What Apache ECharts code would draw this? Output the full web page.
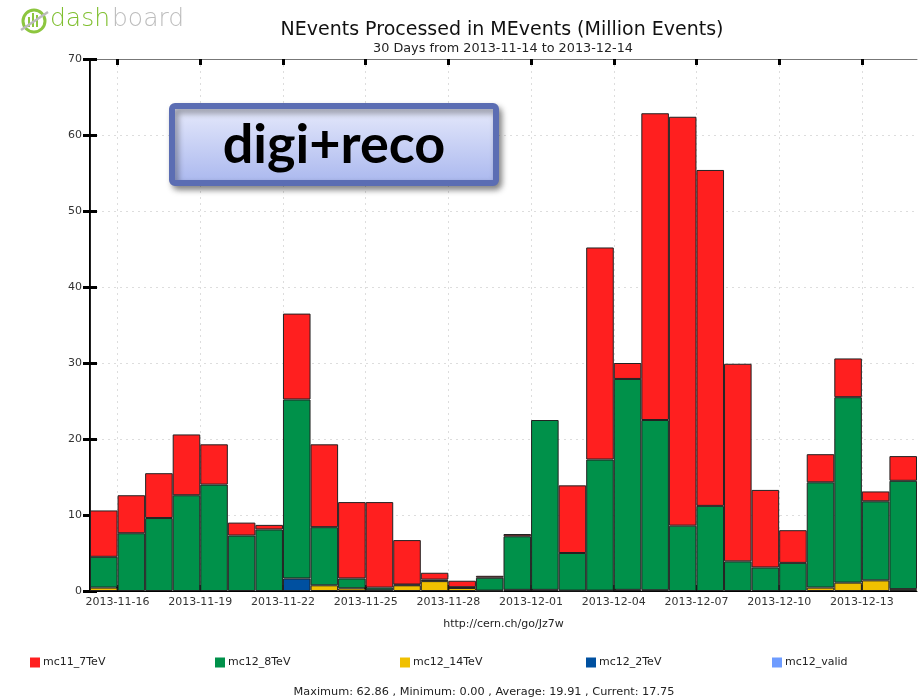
<!DOCTYPE html>
<html>
<head>
<meta charset="utf-8">
<script src="https://cdn.jsdelivr.net/npm/echarts@6/dist/echarts.min.js"></script>
<style>
  html, body { margin: 0; padding: 0; background: #fff; }
  #main { width: 920px; height: 699px; }
</style>
</head>
<body>
<div id="main"></div>
<script>
// one bar per day
var days = [
  '2013-11-15', '2013-11-16', '2013-11-17', '2013-11-18', '2013-11-19', '2013-11-20',
  '2013-11-21', '2013-11-22', '2013-11-23', '2013-11-24', '2013-11-25', '2013-11-26',
  '2013-11-27', '2013-11-28', '2013-11-29', '2013-11-30', '2013-12-01', '2013-12-02',
  '2013-12-03', '2013-12-04', '2013-12-05', '2013-12-06', '2013-12-07', '2013-12-08',
  '2013-12-09', '2013-12-10', '2013-12-11', '2013-12-12', '2013-12-13', '2013-12-14'
]

// million events per day, '-' = nothing
var mc12_14TeV = [0.45, '-', '-', '-', '-', '-', '-', '-', 0.75, 0.35, 0.1, 0.75, 1.3, 0.4, 0.05,
  0.15, 0.15, 0.05, 0.05, 0.15, 0.1, '-', '-', '-', '-', '-', 0.45, 1.1, 1.4, 0.25]
var mc12_2TeV = ['-', '-', '-', '-', '-', '-', '-', 1.65, '-', '-', '-', '-', '-', '-', '-',
  '-', '-', '-', '-', '-', '-', '-', '-', '-', '-', '-', '-', '-', '-', '-']
var mc12_valid = []
var mc12_8TeV = [4.05, 7.6, 9.6, 12.6, 14.0, 7.3, 8.1, 23.55, 7.65, 1.3, 0.35, 0.1, 0.2, 0.1, 1.7,
  7.05, 22.35, 4.95, 17.25, 27.75, 22.4, 8.6, 11.2, 3.9, 3.1, 3.7, 13.85, 24.4, 10.4, 14.25]
var mc11_7TeV = [6.1, 5.0, 5.9, 8.0, 5.3, 1.7, 0.6, 11.3, 10.9, 10.05, 11.25, 5.85, 0.9, 0.85, 0.25,
  0.3, '-', 8.9, 27.9, 2.1, 40.36, 53.8, 44.2, 26.0, 10.2, 4.3, 3.7, 5.1, 1.3, 3.25]

// date ticks sit on day boundaries (value = day offset from 2013-11-15)
var tickValues = [1, 4, 7, 10, 13, 16, 19, 22, 25, 28]
var tickLabels = ['2013-11-16', '2013-11-19', '2013-11-22', '2013-11-25', '2013-11-28',
  '2013-12-01', '2013-12-04', '2013-12-07', '2013-12-10', '2013-12-13']

var font = 'DejaVu Sans'
var colors = {
  mc11_7TeV: '#ff1f1f',
  mc12_8TeV: '#00914a',
  mc12_14TeV: '#f0c000',
  mc12_2TeV: '#0050a0',
  mc12_valid: '#6e9cff'
}

var myChart = echarts.init(document.getElementById('main'))

function bar(name, data) {
  return {
    name: name,
    type: 'bar',
    stack: 'total',
    xAxisIndex: 0,
    yAxisIndex: 0,
    barCategoryGap: 0,
    data: data,
    itemStyle: { color: colors[name], borderColor: '#222', borderWidth: 1 },
    emphasis: { disabled: true }
  }
}

function legendAt(name, left) {
  return {
    data: [name],
    left: left,
    top: 652,
    icon: 'rect',
    itemWidth: 10,
    itemHeight: 10,
    itemGap: 0,
    selectedMode: false,
    itemStyle: { borderWidth: 0 },
    textStyle: { fontFamily: font, fontSize: 11, color: '#222', padding: [0, 0, 0, -2] }
  }
}

var dotted = { show: true, lineStyle: { color: '#ddd', type: [2, 4], width: 1 } }

var option = {
  animation: false,
  backgroundColor: '#fff',
  legend: [
    legendAt('mc11_7TeV', 25),
    legendAt('mc12_8TeV', 210),
    legendAt('mc12_14TeV', 395),
    legendAt('mc12_2TeV', 581),
    legendAt('mc12_valid', 767)
  ],
  grid: { left: 90, right: 3, top: 59, bottom: 108 },
  xAxis: [
    { type: 'category', data: days, show: false },
    {
      type: 'value', position: 'bottom', min: 0, max: 30,
      name: 'http://cern.ch/go/Jz7w', nameLocation: 'middle', nameGap: 28,
      nameTextStyle: { fontFamily: font, fontSize: 11, color: '#222' },
      axisLine: { show: true, lineStyle: { color: '#000', width: 1 } },
      axisTick: { inside: true, length: 6, customValues: tickValues, lineStyle: { color: '#000', width: 3 } },
      axisLabel: {
        customValues: tickValues, margin: 6,
        fontFamily: font, fontSize: 11, color: '#333',
        formatter: function (v) { return tickLabels[tickValues.indexOf(v)] }
      },
      splitLine: dotted
    },
    {
      type: 'value', position: 'top', min: 0, max: 30,
      axisLine: { show: true, lineStyle: { color: '#777', width: 1 } },
      axisTick: { inside: true, length: 6, customValues: tickValues, lineStyle: { color: '#000', width: 3 } },
      axisLabel: { show: false },
      splitLine: { show: false }
    }
  ],
  yAxis: [
    {
      type: 'value', position: 'left', min: 0, max: 70, interval: 10,
      axisLine: { show: true, lineStyle: { color: '#000', width: 2 } },
      axisTick: { show: true, inside: true, length: 7, lineStyle: { color: '#000', width: 3 } },
      axisLabel: { fontFamily: font, fontSize: 11, color: '#333', margin: 8 },
      splitLine: dotted
    },
    {
      type: 'value', position: 'right', min: 0, max: 70, interval: 10,
      axisLine: { show: true, lineStyle: { color: '#222', width: 1 } },
      axisTick: { show: true, inside: true, length: 7, lineStyle: { color: '#000', width: 3 } },
      axisLabel: { show: false },
      splitLine: { show: false }
    }
  ],
  series: [
    bar('mc12_14TeV', mc12_14TeV),
    bar('mc12_2TeV', mc12_2TeV),
    bar('mc12_valid', mc12_valid),
    bar('mc12_8TeV', mc12_8TeV),
    bar('mc11_7TeV', mc11_7TeV)
  ],
  graphic: [
    // titles
    {
      type: 'text', x: 502, y: 30,
      style: {
        text: 'NEvents Processed in MEvents (Million Events)',
        fontFamily: font, fontSize: 19, fill: '#111', align: 'center', verticalAlign: 'middle'
      }
    },
    {
      type: 'text', x: 503, y: 48.5,
      style: {
        text: '30 Days from 2013-11-14 to 2013-12-14',
        fontFamily: font, fontSize: 12.8, fill: '#222', align: 'center', verticalAlign: 'middle'
      }
    },
    // dashboard logo
    { type: 'circle', shape: { cx: 34, cy: 21, r: 11 }, style: { fill: 'none', stroke: '#8dc63f', lineWidth: 3 } },
    { type: 'rect', shape: { x: 28, y: 17, width: 2, height: 10 }, style: { fill: '#8dc63f' } },
    { type: 'rect', shape: { x: 32, y: 13, width: 2, height: 14 }, style: { fill: '#8dc63f' } },
    { type: 'rect', shape: { x: 36, y: 15, width: 2, height: 12 }, style: { fill: '#8dc63f' } },
    { type: 'line', shape: { x1: 21, y1: 30, x2: 48, y2: 12 }, style: { stroke: '#bbb', lineWidth: 2.5 } },
    {
      type: 'text', left: 50, top: 7,
      style: { text: 'dash', fontFamily: font, fontWeight: 200, fontSize: 25, fill: '#7fbf2f' }
    },
    {
      type: 'text', left: 112, top: 7,
      style: { text: 'board', fontFamily: font, fontWeight: 200, fontSize: 25, fill: '#bdbdbd' }
    },
    // digi+reco label box
    {
      type: 'rect', z: 100,
      shape: { x: 172, y: 106, width: 324, height: 77, r: 3 },
      style: {
        fill: new echarts.graphic.LinearGradient(0, 0, 0, 1, [
          { offset: 0, color: '#e9ecfc' },
          { offset: 1, color: '#a8b6ee' }
        ]),
        stroke: '#5b6db3', lineWidth: 6,
        shadowBlur: 6, shadowOffsetX: 3, shadowOffsetY: 4, shadowColor: 'rgba(0,0,0,0.4)'
      }
    },
    {
      type: 'text', z: 101, x: 334, y: 146,
      style: {
        text: 'digi+reco', fontFamily: 'Lato', fontWeight: 'bold', fontSize: 54,
        fill: '#000', align: 'center', verticalAlign: 'middle'
      }
    },
    // summary line
    {
      type: 'text', x: 484, y: 692,
      style: {
        text: 'Maximum: 62.86 , Minimum: 0.00 , Average: 19.91 , Current: 17.75',
        fontFamily: font, fontSize: 11.3, fill: '#222', align: 'center', verticalAlign: 'middle'
      }
    }
  ]
}

option && myChart.setOption(option)
</script>
</body>
</html>
